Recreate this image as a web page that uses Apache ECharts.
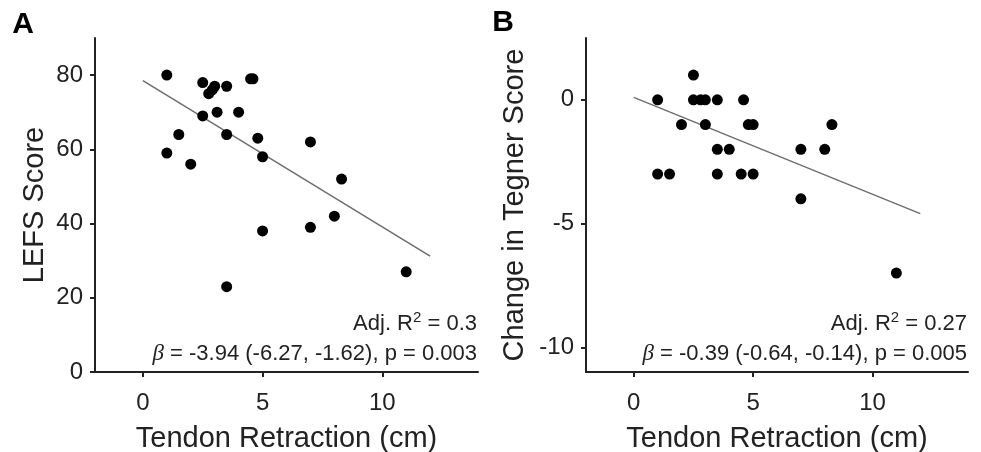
<!DOCTYPE html>
<html>
<head>
<meta charset="utf-8">
<script src="https://cdn.jsdelivr.net/npm/echarts@6/dist/echarts.min.js"></script>
<style>
  html, body { margin: 0; padding: 0; background: #fff; }
  #chart { width: 981px; height: 452px; }
</style>
</head>
<body>
<div id="chart"></div>
<script>
// panel A: tendon retraction (cm) vs LEFS score
const retractionA = [1, 2.5, 3, 2.9, 2.75, 3.5, 4.5, 4.6, 2.5, 3.1, 4, 1.5, 3.5, 4.8, 7, 1, 2, 5, 8.3, 8, 5, 7, 3.5, 11]
const lefsScore = [80, 78, 77, 76, 75, 77, 79, 79, 69, 70, 70, 64, 64, 63, 62, 59, 56, 58, 52, 42, 38, 39, 23, 27]
const fitA = [[0, 78.5], [12, 31.2]]

// panel B: tendon retraction (cm) vs change in Tegner score
const retractionB = [1, 1, 1.5, 2, 2.5, 2.5, 2.8, 3, 3.5, 3, 3.5, 4, 3.5, 4.6, 4.5, 4.8, 5, 5, 7, 7, 8, 8.3, 11]
const tegnerChange = [0, -3, -3, -1, 1, 0, 0, 0, 0, -1, -2, -2, -3, 0, -3, -1, -1, -3, -2, -4, -2, -1, -7]
const fitB = [[0, 0.1], [12, -4.6]]

const xTicks = [0, 5, 10]
const yTicksA = [0, 20, 40, 60, 80]
const yTicksB = [-10, -5, 0]

const FONT = 'Liberation Sans, Arial, Helvetica, sans-serif'
const INK = '#222'

function pairs(xs, ys) {
  return xs.map((x, i) => [x, ys[i]])
}

function xAxisCfg(gridIndex) {
  return {
    gridIndex,
    type: 'value',
    min: -2,
    max: 14,
    name: 'Tendon Retraction (cm)',
    nameLocation: 'middle',
    nameGap: 52,
    nameTextStyle: { fontSize: 29, color: INK, fontFamily: FONT },
    axisLine: { show: true, onZero: false, lineStyle: { color: INK, width: 2 } },
    axisTick: { show: true, length: 5, customValues: xTicks, lineStyle: { color: INK, width: 2 } },
    axisLabel: { customValues: xTicks, fontSize: 24, color: INK, fontFamily: FONT, margin: 19 },
    splitLine: { show: false }
  }
}

function yAxisCfg(gridIndex, name, min, max, ticks, gap) {
  return {
    gridIndex,
    type: 'value',
    min,
    max,
    name,
    nameLocation: 'middle',
    nameGap: gap,
    nameTextStyle: { fontSize: 29, color: INK, fontFamily: FONT },
    axisLine: { show: true, onZero: false, lineStyle: { color: INK, width: 2 } },
    axisTick: { show: true, length: 5, customValues: ticks, lineStyle: { color: INK, width: 2 } },
    axisLabel: { customValues: ticks, fontSize: 24, color: INK, fontFamily: FONT, margin: 12 },
    splitLine: { show: false }
  }
}

function statText(x, y, text) {
  return {
    type: 'text',
    x,
    y,
    style: {
      text,
      align: 'right',
      verticalAlign: 'middle',
      fontSize: 22,
      fontFamily: FONT,
      fill: INK,
      rich: {
        sup: { fontSize: 15, fontFamily: FONT, fill: INK, padding: [0, 0, 13, 0] },
        beta: { fontSize: 23, fontStyle: 'italic', fontFamily: 'Liberation Serif, DejaVu Serif, serif', fill: INK }
      }
    }
  }
}

function panelLabel(x, y, text) {
  return {
    type: 'text',
    x,
    y,
    style: { text, fontSize: 30, fontWeight: 'bold', fontFamily: FONT, fill: '#000', align: 'center', verticalAlign: 'middle' }
  }
}

const chart = echarts.init(document.getElementById('chart'))
chart.setOption({
  animation: false,
  backgroundColor: '#fff',
  grid: [
    { left: 95, top: 38, width: 383, height: 334, outerBoundsMode: 'none', containLabel: false },
    { left: 586, top: 38, width: 382, height: 334, outerBoundsMode: 'none', containLabel: false }
  ],
  xAxis: [xAxisCfg(0), xAxisCfg(1)],
  yAxis: [
    yAxisCfg(0, 'LEFS Score', 0, 90, yTicksA, 46),
    yAxisCfg(1, 'Change in Tegner Score', -11, 2.5, yTicksB, 57)
  ],
  series: [
    {
      type: 'line',
      xAxisIndex: 0,
      yAxisIndex: 0,
      data: fitA,
      symbol: 'none',
      lineStyle: { color: '#6e6e6e', width: 1.5 },
      z: 1
    },
    {
      type: 'scatter',
      xAxisIndex: 0,
      yAxisIndex: 0,
      data: pairs(retractionA, lefsScore),
      symbolSize: 11,
      itemStyle: { color: '#000', opacity: 1 },
      z: 2
    },
    {
      type: 'line',
      xAxisIndex: 1,
      yAxisIndex: 1,
      data: fitB,
      symbol: 'none',
      lineStyle: { color: '#6e6e6e', width: 1.5 },
      z: 1
    },
    {
      type: 'scatter',
      xAxisIndex: 1,
      yAxisIndex: 1,
      data: pairs(retractionB, tegnerChange),
      symbolSize: 11,
      itemStyle: { color: '#000', opacity: 1 },
      z: 2
    }
  ],
  graphic: [
    panelLabel(23, 25, 'A'),
    panelLabel(503, 23, 'B'),
    statText(477, 324, 'Adj. R{sup|2} = 0.3'),
    statText(477, 354, '{beta|β} = -3.94 (-6.27, -1.62), p = 0.003'),
    statText(967, 324, 'Adj. R{sup|2} = 0.27'),
    statText(967, 354, '{beta|β} = -0.39 (-0.64, -0.14), p = 0.005')
  ]
})
</script>
</body>
</html>
